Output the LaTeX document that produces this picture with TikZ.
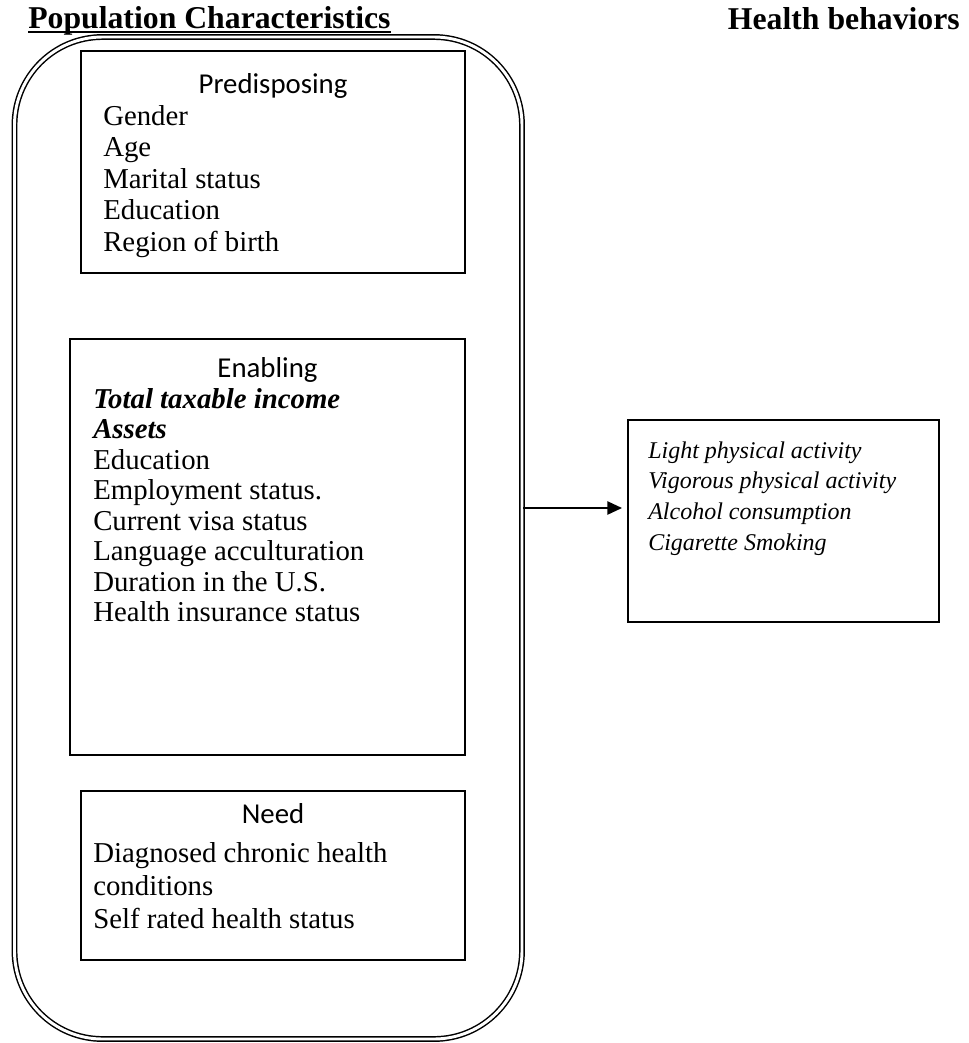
\documentclass[tikz,border=0pt]{standalone}
\usepackage{fontspec}
\setmainfont{Liberation Serif}
\newfontfamily\calibri{Carlito}
\usetikzlibrary{fit,arrows.meta}
\begin{document}
\begin{tikzpicture}[x=0.75pt,y=-0.75pt,
  boxframe/.style={draw, line width=0.9pt, inner sep=0pt, outer sep=0pt},
  container/.style={draw, line width=1.1pt, double, double distance=2.2pt, rounded corners=66pt, inner sep=0pt, outer sep=0pt},
  head/.style={font=\calibri\fontsize{21.6}{26}\selectfont, inner sep=0pt, anchor=base},
  item/.style={font=\fontsize{21.6}{26}\selectfont, inner sep=0pt, anchor=base west},
  ritem/.style={font=\itshape\fontsize{18}{22}\selectfont, inner sep=0pt, anchor=base west},
  titletext/.style={font=\bfseries\fontsize{23.8}{28}\selectfont, inner sep=0pt},
  link/.style={line width=1.1pt, -{Triangle[length=11pt,width=10pt]}, shorten >=4.5pt}
]
\useasboundingbox (0,0) rectangle (968,1043);

% outer double rounded container
\node[container, fit={(14.5,37) (522,1039)}] (pop) {};

% titles
\node[titletext, anchor=base west] (t1) at (28,28) {Population Characteristics};
\node[titletext, anchor=base east] (t2) at (960,29) {Health behaviors};
\draw[line width=1.2pt] ([yshift=-3.2pt]t1.base west) -- ([yshift=-3.2pt]t1.base east);

% boxes
\node[boxframe, fit={(81,51) (465,273)}] (pre) {};
\node[boxframe, fit={(70,339) (465,755)}] (ena) {};
\node[boxframe, fit={(81,791) (465,960)}] (need) {};
\node[boxframe, fit={(628,420) (939,622)}] (hb) {};

% headings
\node[head] (preh) at (273,93) {Predisposing};
\node[head] (enah) at (267.5,377) {Enabling};
\node[head] (needh) at (273,823) {Need};

% predisposing items
\foreach \t [count=\i] in {Gender, Age, Marital status, Education, Region of birth}
  \node[item] (pre\i) at (103,{125+31.5*(\i-1)}) {\t};

% enabling items
\foreach \t [count=\i] in {{\bfseries\itshape Total taxable income}, {\bfseries\itshape Assets}, Education, Employment status., Current visa status, Language acculturation, Duration in the U.S., Health insurance status}
  \node[item] (ena\i) at (93,{408+30.5*(\i-1)}) {\t};

% need items
\foreach \t [count=\i] in {Diagnosed chronic health, conditions, Self rated health status}
  \node[item] (need\i) at (93,{862+33*(\i-1)}) {\t};

% health behaviors items
\foreach \t [count=\i] in {Light physical activity, Vigorous physical activity, Alcohol consumption, Cigarette Smoking}
  \node[ritem] (hb\i) at (648,{458+30.7*(\i-1)}) {\t};

% arrow
\coordinate (arrstart) at (523,508);
\draw[link] (arrstart) -- (arrstart -| hb.west);
\end{tikzpicture}
\end{document}
